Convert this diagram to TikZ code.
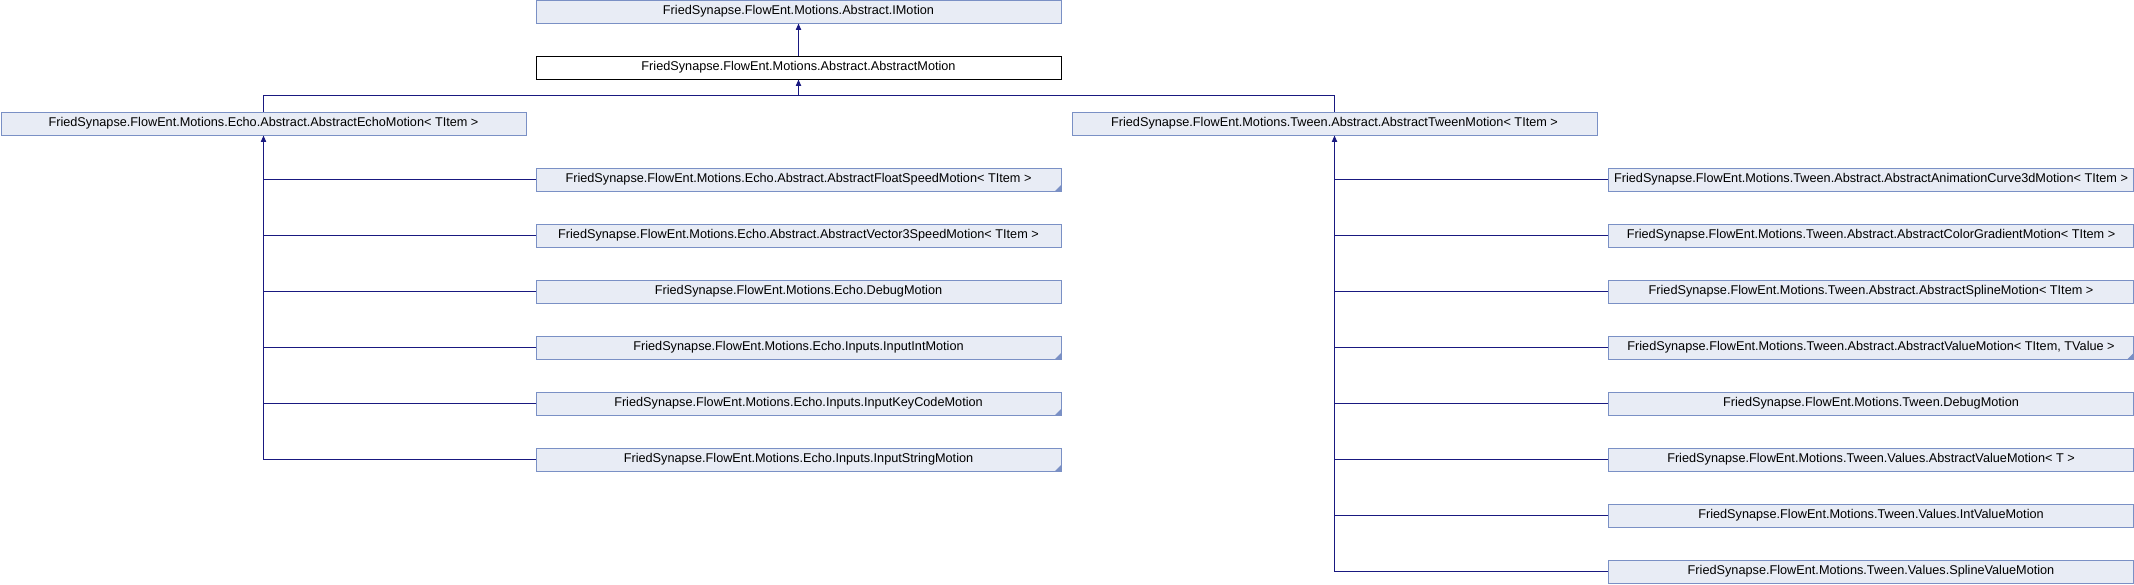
\documentclass[tikz,border=0pt]{standalone}
\usepackage{fontspec}
\setmainfont{Liberation Sans}
\usetikzlibrary{arrows.meta}
\definecolor{nodefill}{HTML}{E8ECF5}
\definecolor{nodeline}{HTML}{7A90C5}
\definecolor{edgeblue}{HTML}{191980}
\tikzset{
    mynode/.style = {rectangle, line width=0.5pt, draw=nodeline, fill=nodefill, minimum width=262.5pt, minimum height=11.5pt, inner sep=0pt, font=\fontsize{6.35}{7.5}\selectfont, text=black},
    mynodew/.style = {mynode, draw=black, fill=white}, % current class
    mynodet/.style = {mynode, path picture={\fill[nodeline] (path picture bounding box.south east) -- ++(-3pt,0) -- ++(3pt,3pt) -- cycle;}}, % has more children
    edgen/.style = {-,line width=0.6pt,edgeblue},
    edgea/.style = {-{Triangle[length=3.2pt,width=2.6pt]},line width=0.6pt,edgeblue},
    edgeb/.style = {{Triangle[length=3.2pt,width=2.6pt]}-,line width=0.6pt,edgeblue}
}
\begin{document}
\begin{tikzpicture}[x=0.5pt,y=-0.5pt]
\path[use as bounding box] (0,0) rectangle (2134,584);
%
\node[mynode] at (798.5,11.5) (im) {FriedSynapse.FlowEnt.Motions.Abstract.IMotion};
\node[mynodew] at (798.5,67.5) (am) {FriedSynapse.FlowEnt.Motions.Abstract.AbstractMotion};
\node[mynode] at (263.5,123.5) (ae) {FriedSynapse.FlowEnt.Motions.Echo.Abstract.AbstractEchoMotion< TItem >};
\node[mynode] at (1334.5,123.5) (at) {FriedSynapse.FlowEnt.Motions.Tween.Abstract.AbstractTweenMotion< TItem >};
%
\node[mynodet] at (798.5,179.5) (e1) {FriedSynapse.FlowEnt.Motions.Echo.Abstract.AbstractFloatSpeedMotion< TItem >};
\node[mynode] at (798.5,235.5) (e2) {FriedSynapse.FlowEnt.Motions.Echo.Abstract.AbstractVector3SpeedMotion< TItem >};
\node[mynode] at (798.5,291.5) (e3) {FriedSynapse.FlowEnt.Motions.Echo.DebugMotion};
\node[mynodet] at (798.5,347.5) (e4) {FriedSynapse.FlowEnt.Motions.Echo.Inputs.InputIntMotion};
\node[mynodet] at (798.5,403.5) (e5) {FriedSynapse.FlowEnt.Motions.Echo.Inputs.InputKeyCodeMotion};
\node[mynodet] at (798.5,459.5) (e6) {FriedSynapse.FlowEnt.Motions.Echo.Inputs.InputStringMotion};
%
\node[mynode] at (1871,179.5) (t1) {FriedSynapse.FlowEnt.Motions.Tween.Abstract.AbstractAnimationCurve3dMotion< TItem >};
\node[mynode] at (1871,235.5) (t2) {FriedSynapse.FlowEnt.Motions.Tween.Abstract.AbstractColorGradientMotion< TItem >};
\node[mynode] at (1871,291.5) (t3) {FriedSynapse.FlowEnt.Motions.Tween.Abstract.AbstractSplineMotion< TItem >};
\node[mynodet] at (1871,347.5) (t4) {FriedSynapse.FlowEnt.Motions.Tween.Abstract.AbstractValueMotion< TItem, TValue >};
\node[mynode] at (1871,403.5) (t5) {FriedSynapse.FlowEnt.Motions.Tween.DebugMotion};
\node[mynode] at (1871,459.5) (t6) {FriedSynapse.FlowEnt.Motions.Tween.Values.AbstractValueMotion< T >};
\node[mynode] at (1871,515.5) (t7) {FriedSynapse.FlowEnt.Motions.Tween.Values.IntValueMotion};
\node[mynode] at (1871,571.5) (t8) {FriedSynapse.FlowEnt.Motions.Tween.Values.SplineValueMotion};
%
\coordinate (bus) at (798.5,95.5);
\draw[edgea] (am) -- (im);
\draw[edgen] (ae.north) |- (bus) -| (at.north);
\draw[edgea] (bus) -- (am);
%
\draw[edgeb] (ae) |- (e6);
\draw[edgen] (e1) -- (e1 -| ae);
\draw[edgen] (e2) -- (e2 -| ae);
\draw[edgen] (e3) -- (e3 -| ae);
\draw[edgen] (e4) -- (e4 -| ae);
\draw[edgen] (e5) -- (e5 -| ae);
%
\draw[edgeb] (at) |- (t8);
\draw[edgen] (t1) -- (t1 -| at);
\draw[edgen] (t2) -- (t2 -| at);
\draw[edgen] (t3) -- (t3 -| at);
\draw[edgen] (t4) -- (t4 -| at);
\draw[edgen] (t5) -- (t5 -| at);
\draw[edgen] (t6) -- (t6 -| at);
\draw[edgen] (t7) -- (t7 -| at);

\end{tikzpicture}
\end{document}
